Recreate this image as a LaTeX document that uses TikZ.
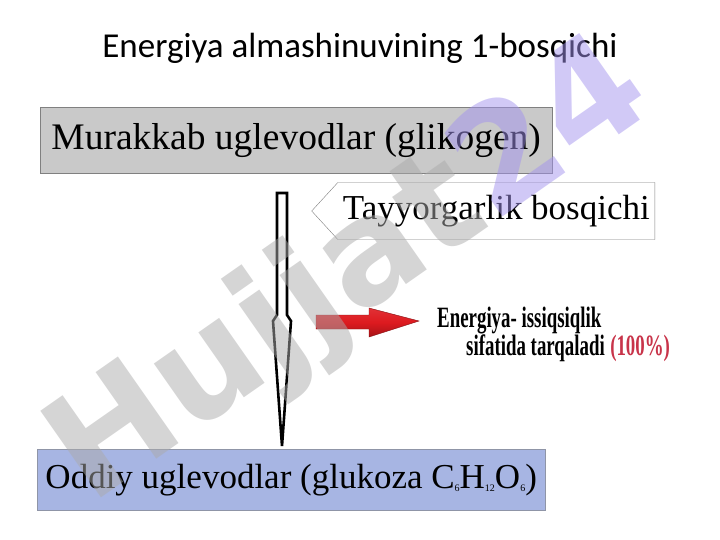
\documentclass[tikz,border=0pt]{standalone}
\usepackage{fontspec}
\setmainfont{Liberation Serif}
\newfontfamily\titlefont{Carlito}
\newfontfamily\narrowfont{Liberation Serif Bold}[FakeStretch=0.64]
\newfontfamily\markfont{DejaVu Sans}
\usetikzlibrary{shapes.symbols,positioning}
\definecolor{boxgray}{HTML}{C9C9C9}
\definecolor{boxblue}{HTML}{A7B5E3}
\definecolor{arrowred}{HTML}{DD1A1F}
\definecolor{pctred}{HTML}{C8344A}
\definecolor{markgray}{HTML}{ABABAB}
\definecolor{marklilac}{HTML}{A393EE}
\tikzset{
  stagebox/.style={anchor=north west, inner sep=0pt},
  notetext/.style={anchor=base west, inner sep=0pt, font=\narrowfont\fontsize{29.5}{30}\selectfont}
}
\begin{document}
\begin{tikzpicture}[x=1pt,y=-1pt]
  \useasboundingbox (0,0) rectangle (720,540);
  \def\sub#1{\raisebox{-3pt}{\fontsize{10}{10}\selectfont #1}}
  % title
  \node[font=\titlefont\fontsize{35}{40}\selectfont] (title) at (360,48) {Energiya almashinuvining 1-bosqichi};
  % boxes
  \node[stagebox, draw=gray, fill=boxgray, minimum width=512pt, minimum height=66pt,
    font=\fontsize{37.5}{40}\selectfont] (murakkab) at (40,107)
    {Murakkab uglevodlar (glikogen)};
  \node[stagebox, draw=gray!60!boxblue, fill=boxblue, minimum width=508pt, minimum height=61pt,
    font=\fontsize{35}{40}\selectfont] (oddiy) at (37,449)
    {Oddiy uglevodlar (glukoza C\sub{6}H\sub{12}O\sub{6})};
  \node[shape=signal, signal to=west, signal pointer angle=95, draw=gray, fill=white,
    minimum height=57pt, inner xsep=5pt, font=\fontsize{35}{38}\selectfont, anchor=east] (tayyor) at (655,211)
    {Tayyorgarlik bosqichi};
  % long arrow
  \coordinate (shafttop) at (282,193);
  \coordinate (tip) at (282,446);
  \draw[line width=2.6pt, fill=white, line join=miter]
    (shafttop) ++(-5,0) -- ++(10,0) -- ++(0,122) -- ++(4,6)
    -- (tip) -- ++(-9,-125) -- ++(4,-6) -- cycle;
  % red arrow
  \coordinate (redtail) at (316,322);
  \draw[draw=arrowred!60!black, line width=0.4pt, top color=arrowred!90!white, bottom color=arrowred!75!black,
    middle color=arrowred]
    (redtail) ++(0,-7) -- ++(53,0) -- ++(0,-7) -- ++(50,13) -- ++(-50,16) -- ++(0,-8) -- ++(-53,0) -- cycle;
  % energy note
  \node[notetext] (energiya) at (437,327) {Energiya- issiqsiqlik};
  \node[notetext] (sifat) at (466,355) {sifatida tarqaladi};
  \node[notetext, text=pctred] (foiz) at ([xshift=5]sifat.base east) {(100\%)};
  % watermark
  \node[rotate=35, opacity=0.5, inner sep=0pt, font=\markfont\bfseries\fontsize{145}{145}\selectfont] (belgi) at (352,274)
    {\textcolor{markgray}{Hujjat}\textcolor{marklilac}{24}};
\end{tikzpicture}
\end{document}
